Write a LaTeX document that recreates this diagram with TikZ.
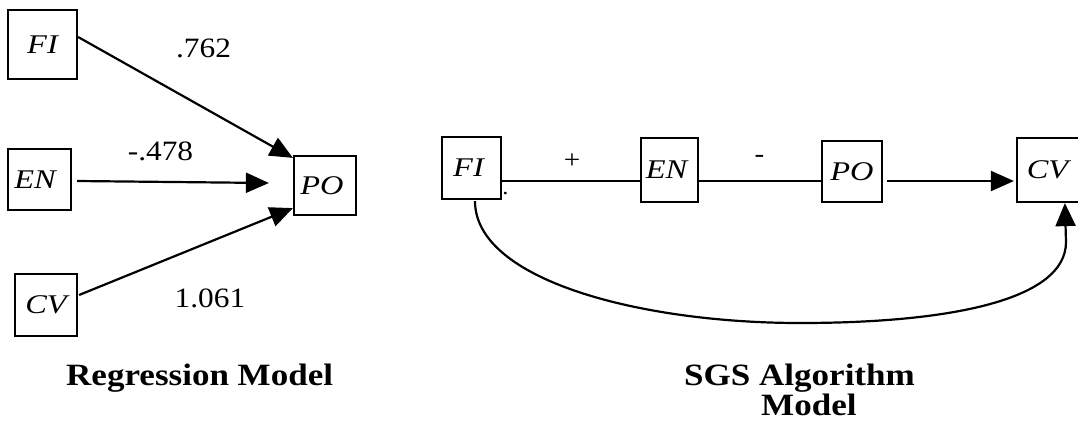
\documentclass[tikz,border=0pt]{standalone}
\usepackage{fontspec}
\setmainfont{Liberation Serif}
\newfontfamily\boxf[FakeStretch=1.2]{Liberation Serif}
\newfontfamily\numf[FakeStretch=1.12]{Liberation Serif}
\newfontfamily\capf[FakeStretch=1.13]{Liberation Serif}
\usetikzlibrary{arrows.meta}
\tikzset{
  var/.style={draw, line width=2.2pt, inner sep=0pt, font=\boxf\itshape\fontsize{27}{30}\selectfont},
  conn/.style={line width=2.2pt},
  arr/.style={conn, -{Triangle[length=23pt,width=20pt]}},
  coef/.style={font=\numf\fontsize{28}{30}\selectfont, inner sep=0pt, anchor=base},
  sign/.style={font=\numf\fontsize{26}{30}\selectfont, inner sep=0pt},
  caption/.style={font=\capf\bfseries\fontsize{31}{30}\selectfont, inner sep=0pt, anchor=base west}
}
\begin{document}
\begin{tikzpicture}[x=1pt,y=-1pt]
\useasboundingbox (0,0) rectangle (1078,421);
% ---------- Regression model ----------
\node[var, minimum width=69pt, minimum height=69pt] (lFI) at (42.5,44.5) {FI};
\node[var, minimum width=63pt, minimum height=61pt] (lEN) at (39.5,179.5) {EN\hspace*{9pt}};
\node[var, minimum width=62pt, minimum height=62pt] (lCV) at (46,305) {CV};
\node[var, minimum width=62pt, minimum height=59pt] (lPO) at (325,185.5) {PO\hspace*{6pt}};
\draw[arr] ([yshift=7.5pt]lFI.east) -- ([yshift=-3pt]lPO.north west);
\draw[arr] ([xshift=5pt,yshift=-1.5pt]lEN.east) -- ([xshift=-24pt,yshift=2.5pt]lPO.west);
\draw[arr] ([xshift=1pt,yshift=10pt]lCV.east) -- ([yshift=8pt]lPO.south west);
\node[coef] (c1) at (203.5,57) {.762};
\node[coef] (c2) at (160.5,160) {-.478};
\node[coef] (c3) at (210,307) {1.061};
\node[caption] (cap1) at (66,385) {Regression Model};
% ---------- SGS model ----------
\node[var, minimum width=59pt, minimum height=62pt] (rFI) at (471.5,168) {FI\hspace*{6pt}};
\node[var, minimum width=57pt, minimum height=64pt] (rEN) at (669.5,170) {EN\hspace*{6pt}};
\node[var, minimum width=60pt, minimum height=61pt] (rPO) at (852,171.5) {PO};
\node[var, minimum width=73pt, minimum height=64pt] (rCV) at (1053.5,170) {CV\hspace*{12pt}};
\node[sign] (plus) at (572,161) {+};
\node[sign] (minus) at (759.5,159) {-};
\node[font=\numf\fontsize{22}{24}\selectfont, inner sep=0pt, anchor=base] (rdot) at (505.5,194) {.};
\draw[conn] ([yshift=-13pt]rFI.east) -- ([yshift=-11pt]rEN.west);
\draw[conn] ([yshift=-11pt]rEN.east) -- ([yshift=-9.5pt]rPO.west);
\draw[arr] ([xshift=4pt,yshift=-9.5pt]rPO.east) -- ([xshift=-2pt,yshift=-11pt]rCV.west);
\coordinate (arcbot) at (800,323);
\coordinate (arcup) at (1066,242);
\draw[arr] ([xshift=3.5pt,yshift=-1pt]rFI.south) .. controls (475,280) and (640,323) .. (arcbot)
  .. controls (950,323) and (1066,300) .. (arcup) -- ([xshift=49pt]rCV.south west);
\node[caption] (cap2) at (684,385) {SGS Algorithm};
\node[caption] (cap3) at (761,415) {Model};
\end{tikzpicture}
\end{document}
